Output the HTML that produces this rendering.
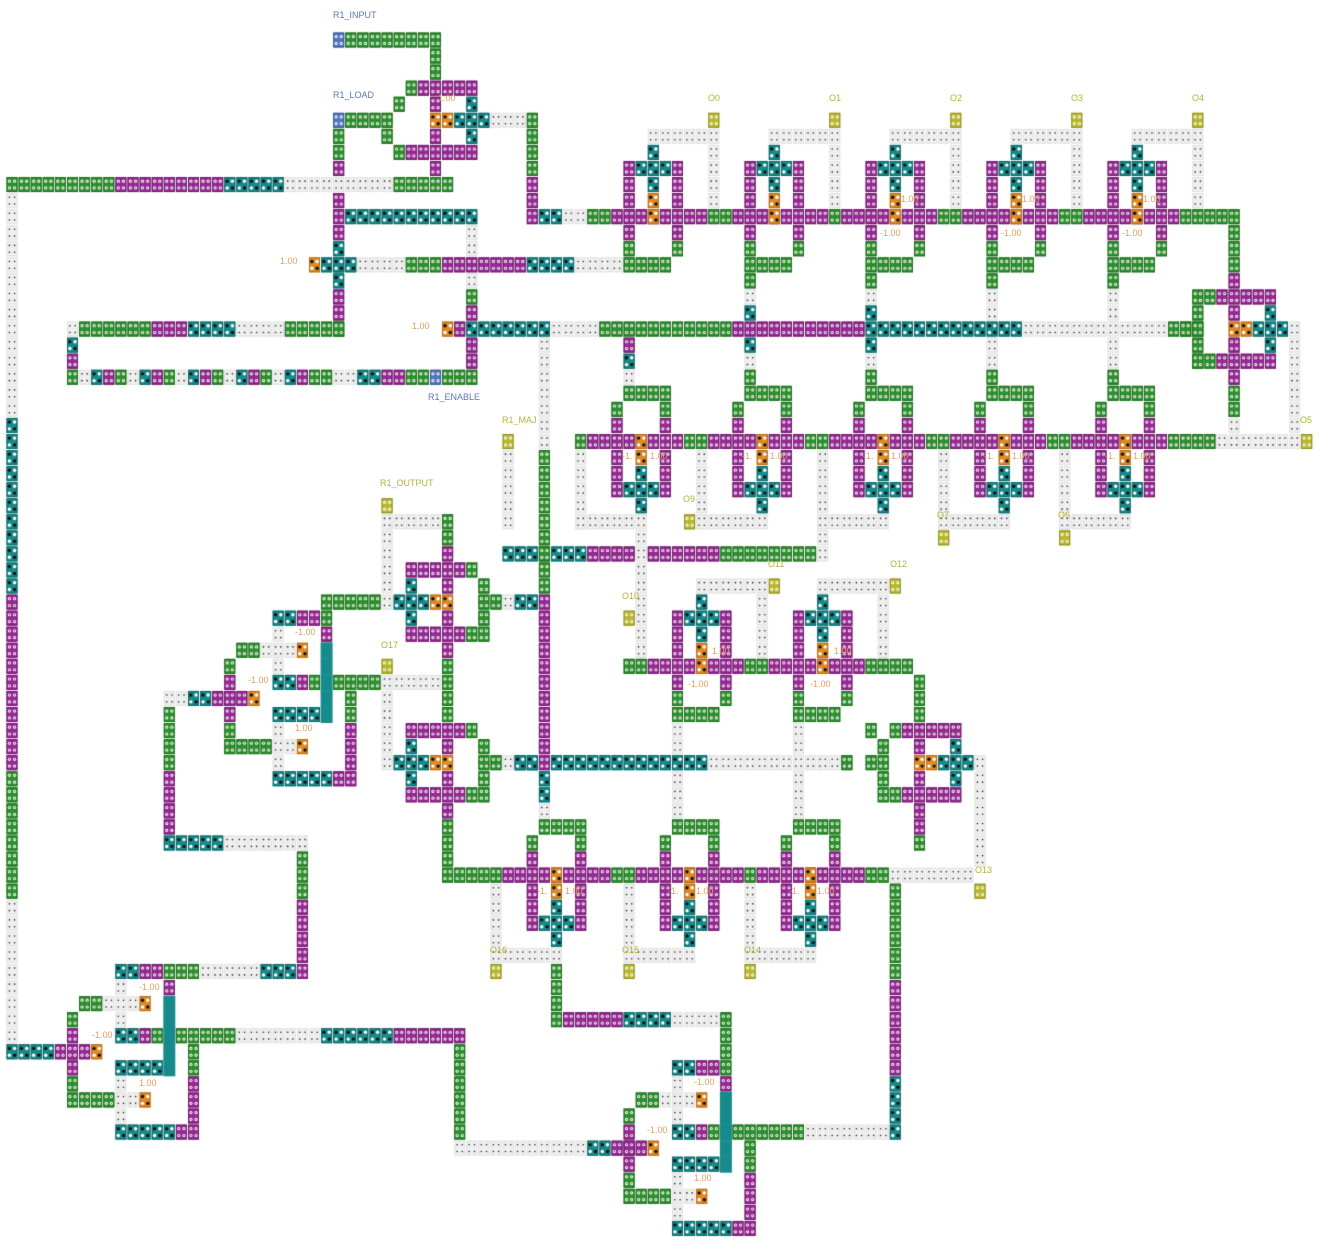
<!DOCTYPE html>
<html><head><meta charset="utf-8"><style>
html,body{margin:0;padding:0;background:#fff;}
#wrap{position:relative;width:1321px;height:1251px;overflow:hidden;background:#fff;}
canvas{position:absolute;left:0;top:0;}
.l{position:absolute;font-family:"Liberation Sans",sans-serif;font-size:9px;line-height:10px;white-space:nowrap;}
.b{color:#5a78ba;}
.y{color:#b2b23c;}
.n{color:#e0a060;}
</style></head><body><div id="wrap">
<canvas id="c" width="1321" height="1251"></canvas>
<div class="l b" style="left:333px;top:10px">R1_INPUT</div>
<div class="l b" style="left:333px;top:90px">R1_LOAD</div>
<div class="l b" style="left:428px;top:392px">R1_ENABLE</div>
<div class="l y" style="left:502px;top:415px">R1_MAJ</div>
<div class="l y" style="left:380px;top:478px">R1_OUTPUT</div>
<div class="l y" style="left:708px;top:93px">O0</div>
<div class="l y" style="left:829px;top:93px">O1</div>
<div class="l y" style="left:950px;top:93px">O2</div>
<div class="l y" style="left:1071px;top:93px">O3</div>
<div class="l y" style="left:1192px;top:93px">O4</div>
<div class="l y" style="left:1300px;top:415px">O5</div>
<div class="l y" style="left:683px;top:494px">O9</div>
<div class="l y" style="left:937px;top:510px">O7</div>
<div class="l y" style="left:1058px;top:510px">O6</div>
<div class="l y" style="left:622px;top:591px">O10</div>
<div class="l y" style="left:768px;top:559px">O11</div>
<div class="l y" style="left:890px;top:559px">O12</div>
<div class="l y" style="left:975px;top:865px">O13</div>
<div class="l y" style="left:490px;top:945px">O16</div>
<div class="l y" style="left:622px;top:945px">O15</div>
<div class="l y" style="left:744px;top:945px">O14</div>
<div class="l y" style="left:381px;top:640px">O17</div>
<div class="l n" style="left:280px;top:256px">1.00</div>
<div class="l n" style="left:412px;top:321px">1.00</div>
<div class="l n" style="left:438px;top:93px">1.00</div>
<div class="l n" style="left:1022px;top:194px">1.00</div>
<div class="l n" style="left:1143px;top:194px">1.00</div>
<div class="l n" style="left:901px;top:194px">1.00</div>
<div class="l n" style="left:880px;top:228px">-1.00</div>
<div class="l n" style="left:1001px;top:228px">-1.00</div>
<div class="l n" style="left:1122px;top:228px">-1.00</div>
<div class="l n" style="left:622px;top:451px">-1.</div><div class="l n" style="left:650px;top:451px">1.00</div>
<div class="l n" style="left:742px;top:451px">-1.</div><div class="l n" style="left:770px;top:451px">1.00</div>
<div class="l n" style="left:863px;top:451px">-1.</div><div class="l n" style="left:891px;top:451px">1.00</div>
<div class="l n" style="left:984px;top:451px">-1.</div><div class="l n" style="left:1012px;top:451px">1.00</div>
<div class="l n" style="left:1105px;top:451px">-1.</div><div class="l n" style="left:1133px;top:451px">1.00</div>
<div class="l n" style="left:712px;top:646px">1.00</div><div class="l n" style="left:688px;top:679px">-1.00</div>
<div class="l n" style="left:834px;top:646px">1.00</div><div class="l n" style="left:810px;top:679px">-1.00</div>
<div class="l n" style="left:537px;top:886px">-1.</div><div class="l n" style="left:565px;top:886px">1.00</div>
<div class="l n" style="left:668px;top:886px">-1.</div><div class="l n" style="left:696px;top:886px">1.00</div>
<div class="l n" style="left:789px;top:886px">-1.</div><div class="l n" style="left:817px;top:886px">1.00</div>
<div class="l n" style="left:295px;top:627px">-1.00</div><div class="l n" style="left:248px;top:675px">-1.00</div><div class="l n" style="left:295px;top:723px">1.00</div>
<div class="l n" style="left:139px;top:982px">-1.00</div><div class="l n" style="left:92px;top:1030px">-1.00</div><div class="l n" style="left:139px;top:1078px">1.00</div>
<div class="l n" style="left:694px;top:1077px">-1.00</div><div class="l n" style="left:647px;top:1125px">-1.00</div><div class="l n" style="left:694px;top:1173px">1.00</div>
</div>
<script>
const cv=document.getElementById('c'),ctx=cv.getContext('2d');
const PX=12.1,PY=16.06;
const COL={g:['#2f8f2f','#1f6f1f'],p:['#952a92','#6f1a6c'],t:['#178b8b','#0d6666'],o:['#e08a26','#b56a10'],b:['#5074bd','#35559a'],y:['#b8b830','#8f8f20'],d:['#efefef','#e2e2e2']};
function sx(x){return 12+Math.round((x-12)/PX)*PX;}
function sy(y){return 40+Math.round((y-40)/PY)*PY;}
function dot(x,y,r,c){ctx.fillStyle=c;ctx.beginPath();ctx.arc(x,y,r,0,6.3);ctx.fill();}
function cell(x,y,k){
 if(!k||k=='.'||k==' ')return;
 x=sx(x);y=sy(y);
 if(k=='T'){ctx.fillStyle='#178b8b';ctx.fillRect(x-6,y-8,12,16.5);return;}
 const [f,s]=COL[k];
 ctx.fillStyle=f;ctx.fillRect(x-5.5,y-7.5,11,15);
 ctx.strokeStyle=s;ctx.lineWidth=1;ctx.strokeRect(x-5,y-7,10,14);
 const P=[[-2.6,-3.4],[2.6,-3.4],[-2.6,3.4],[2.6,3.4]];
 if(k=='d'){P.forEach(q=>dot(x+q[0],y+q[1],0.8,'#222'));return;}
 if(k=='t'||k=='o'){const cs=['#111','#fff','#fff','#111'];P.forEach((q,i)=>dot(x+q[0],y+q[1],1.7,cs[i]));return;}
 P.forEach(q=>{dot(x+q[0],y+q[1],1.6,'#fff');dot(x+q[0],y+q[1],0.7,f);});
}
function H(x,y,s){for(let i=0;i<s.length;i++)cell(x+i*PX,y,s[i]);}
function V(x,y,s){for(let i=0;i<s.length;i++)cell(x,y+i*PY,s[i]);}
function R(ch,n){return ch.repeat(n);}
function mline(x0,n,y,cs,lo,hi){for(let i=0;i<n;i++){const x=x0+i*PX;let k='g';cs.forEach(c=>{const d=Math.round((x-c)/PX);if(d>=lo&&d<=hi)k='p';});cell(x,y,k);}}
const AC=[[0,-4,'t'],[-2,-3,'p'],[-1,-3,'t'],[0,-3,'t'],[1,-3,'t'],[2,-3,'p'],[-2,-2,'p'],[0,-2,'t'],[2,-2,'p'],[-2,-1,'p'],[0,-1,'o'],[2,-1,'p'],[0,0,'o'],[-2,1,'p'],[2,1,'p'],[-2,2,'g'],[2,2,'g'],[-2,3,'g'],[-1,3,'g'],[0,3,'g'],[1,3,'g']];
function A(c,r){AC.forEach(q=>cell(c+q[0]*PX,r+q[1]*PY,q[2]));}
function B(c,r){AC.forEach(q=>cell(c-q[0]*PX,r-q[1]*PY,q[2]));}
const XC=[];
[-3,-2,-1,0,1].forEach(i=>XC.push([i,-2,'p'],[i,2,'p']));
XC.push([2,-2,'g'],[2,2,'g'],[3,2,'g'],[-3,-1,'t'],[0,-1,'p'],[3,-1,'g'],[-3,1,'t'],[0,1,'p'],[3,1,'g'],[-4,0,'t'],[-3,0,'t'],[-2,0,'t'],[-1,0,'o'],[0,0,'o'],[3,0,'g'],[4,0,'g']);
function X(c,r,m){XC.forEach(q=>cell(c+(m?-q[0]:q[0])*PX,r+q[1]*PY,q[2]));}
function S(x,y){
 const L=[[2,-5,'t'],[3,-5,'t'],[4,-5,'p'],[5,-5,'p'],[6,-5,'g'],[2,-4,'d'],[6,-4,'p'],
 [-1,-3,'g'],[0,-3,'g'],[1,-3,'d'],[2,-3,'d'],[3,-3,'d'],[4,-3,'o'],
 [-2,-2,'g'],[2,-2,'d'],[-2,-1,'p'],[2,-1,'t'],[3,-1,'t'],[4,-1,'p'],[5,-1,'g'],
 [-2,0,'p'],[8,0,'g'],[-2,1,'p'],[2,1,'t'],[3,1,'t'],[4,1,'t'],[5,1,'t'],[8,1,'g'],
 [-2,2,'g'],[2,2,'d'],[8,2,'p'],[-2,3,'g'],[-1,3,'g'],[0,3,'g'],[1,3,'g'],[2,3,'d'],[3,3,'d'],[4,3,'o'],[8,3,'p'],
 [2,4,'d'],[8,4,'p'],[2,5,'t'],[3,5,'t'],[4,5,'t'],[5,5,'t'],[6,5,'t'],[7,5,'p'],[8,5,'p'],[0,0,'o']];
 L.forEach(q=>cell(x+q[0]*PX,y+q[1]*PY,q[2]));
 for(let r=-3;r<=1;r++)cell(x+6*PX,y+r*PY,'T');
}
// ---------- top-left
H(338,40,'b'+R('g',8));V(435,56,'gg');H(411,88,'gppppp');
cell(398,104,'g');cell(435,104,'p');cell(471,104,'t');
H(338,120,'bgggg');H(435,120,'ootttddd');V(532,120,'ggggppp');H(545,216,'ttdd');
cell(338,136,'g');cell(386,136,'g');cell(435,136,'p');cell(471,136,'t');
H(398,152,'gpppppp');cell(338,152,'g');cell(338,168,'p');cell(435,168,'p');
H(12,184,R('g',9)+R('p',9)+R('t',5)+R('d',9)+R('g',5));
V(338,200,'ppptttppg');H(350,216,R('t',11));V(471,232,'dd');
H(314,264,'otttdddd');H(410,264,'ggg'+R('p',7)+R('t',4)+R('d',4));
cell(70,328,'d');H(82,328,R('g',6)+R('p',3)+R('t',4)+R('d',4)+R('g',5));
V(70,344,'tp');
H(70,376,'gdtpgdtpgdtpgdtpgdtpggddttppggbggg');
V(471,280,'dgp');V(471,344,'pp');
H(446,328,'op');H(471,328,R('t',7)+R('d',4)+R('g',11)+R('p',11)+R('t',13)+R('d',12));
H(1173,328,'ggg');
// left column
V(12,200,R('d',14));V(12,424,R('t',11));V(12,600,R('p',11));V(12,776,R('g',8));V(12,904,R('d',9));
// L1 top
mline(587,54,216,[654,775,895,1016,1137],-4,3);
[654,775,895,1016,1137].forEach((c,i)=>{A(c,216);H(c,136,R('d',6));V(c+5*PX,152,'dddd');cell(c+5*PX,120,'y');
 if(i>0)V(c-2*PX,280,i<3?'gdt':'gdd');});
// top right cross
V(1233,232,'gggp');X(1233,328,1);cell(1197,296,'g');cell(1197,360,'g');V(1233,376,'pggd');
cell(1293,328,'d');V(1293,344,R('d',7));H(1208,440,R('d',8));cell(1305,440,'y');
// L3
mline(575,53,440,[641,761,882,1003,1124],-4,3);
[641,761,882,1003,1124].forEach((c,i)=>{B(c,440);V(c-5*PX,456,'ddddd');H(c-5*PX,520,R('d',6));});
V(629,344,'ptd');V(749,344,'tdg');V(870,344,'tdg');V(991,344,'ddg');V(1112,344,'ddg');
cell(688,520,'y');V(821,536,'d');cell(943,536,'y');cell(1063,536,'y');V(641,536,'d');
// col 543 and R1_MAJ
V(543,344,R('d',7));V(543,456,R('g',9));V(543,600,R('p',11)+'ttd');
cell(507,440,'y');V(507,456,'ddddd');
H(504,553,'tttgtttppppdppppppggggggggd');
V(641,569,'dddddd');cell(629,617,'y');
// L5 middle
mline(635,24,665,[702,824],-4,3);
[702,824].forEach(c=>{A(c,665);H(c,585,R('d',6));cell(c+6*PX,585,'y');V(c+5*PX,601,'dddd');V(c-2*PX,729,R('d',6));});
V(918,681,'ggg');X(918,762,1);H(870,729,'g');V(918,810,'ppg');
cell(978,762,'d');V(978,778,R('d',6));H(893,874,R('d',7));cell(978,890,'y');
// L6
H(519,762,'tt');H(555,762,R('t',13));H(712,762,R('d',12));H(845,762,'g');
// left crosses
X(447,600,0);X(447,762,0);H(507,600,'dtt');H(507,762,'dtt');
cell(387,504,'y');V(387,520,'dddddd');H(399,520,'dddd');V(447,520,'ggp');
V(447,648,'pgggg');cell(387,665,'y');H(387,681,'ddddd');V(387,697,'ddddd');
// S1
S(253,697);H(326,601,'ggggg');H(338,681,'gggg');H(168,697,'ddttppp');
V(168,713,'ggggpppp');H(168,841,'ttttt'+R('d',7));V(301,857,'gggpppp');
// L7
V(447,808,'pggg');
mline(447,37,874,[556,687,808],-4,4);
[556,687,808].forEach(c=>{B(c,874);V(c-5*PX,890,'dddd');H(c-5*PX,954,R('d',6));cell(c-5*PX,970,'y');});
V(893,890,'gggggg'+'pppppp'+'tttt');
V(556,970,'ggg');H(556,1018,'g'+R('p',5)+R('t',4)+R('d',4));V(724,1018,'ggg');
// S2
S(97,1050);H(182,970,'gg'+R('d',5)+'tttp');H(182,1034,R('g',5)+R('d',7)+R('t',6)+R('p',6));
H(12,1050,'ttttppp');V(459,1050,R('g',6));H(459,1146,R('d',11));
// S3
S(652,1146);H(592,1146,'ttppp');H(736,1130,R('g',6)+R('d',7));
</script>
</body></html>
